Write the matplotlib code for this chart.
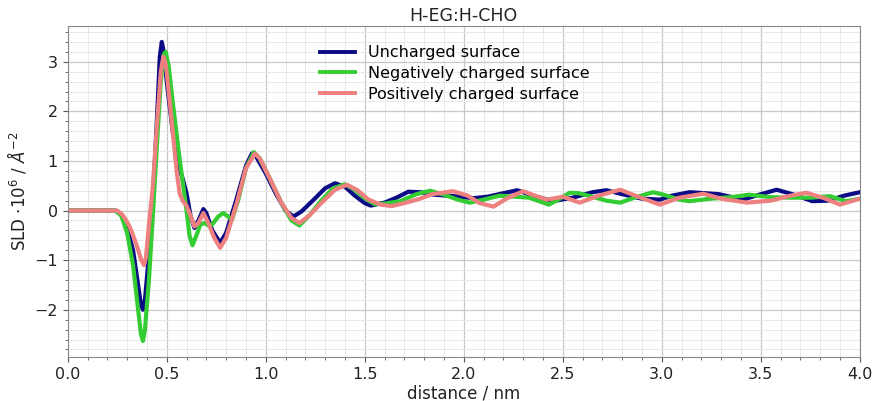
import matplotlib
matplotlib.use("Agg")
import matplotlib.pyplot as plt
from matplotlib.ticker import MultipleLocator

title = "H-EG:H-CHO"
labels = ["Uncharged surface", "Negatively charged surface", "Positively charged surface"]
colors = ["#0b0b85", "#33cc33", "#ee8080"]

x_unch = [0.0, 0.24, 0.27, 0.30, 0.33, 0.35, 0.37, 0.38, 0.39, 0.41, 0.43, 0.45, 0.465, 0.475, 0.485,
          0.50, 0.53, 0.56, 0.58, 0.60, 0.62, 0.64, 0.66, 0.685, 0.70, 0.73, 0.77, 0.80, 0.85, 0.90,
          0.93, 0.95, 1.0, 1.05, 1.10, 1.14, 1.18, 1.25, 1.30, 1.35, 1.40, 1.45, 1.50, 1.53, 1.60,
          1.66, 1.72, 1.78, 1.85, 1.95, 2.05, 2.12, 2.20, 2.27, 2.35, 2.45, 2.55, 2.65, 2.72, 2.80,
          2.90, 2.99, 3.05, 3.14, 3.22, 3.29, 3.41, 3.50, 3.58, 3.66, 3.76, 3.84, 3.92, 4.0]
y_unch = [0.0, 0.0, -0.08, -0.35, -0.8, -1.35, -1.9, -2.0, -1.8, -0.9, 0.2, 1.8, 3.1, 3.4, 3.2,
          2.6, 1.6, 0.9, 0.65, 0.35, -0.1, -0.35, -0.2, 0.03, -0.05, -0.4, -0.65, -0.45, 0.2, 0.9,
          1.15, 1.1, 0.75, 0.35, 0.0, -0.12, -0.02, 0.25, 0.45, 0.55, 0.48, 0.3, 0.15, 0.1, 0.16,
          0.26, 0.38, 0.37, 0.32, 0.29, 0.25, 0.28, 0.35, 0.41, 0.3, 0.19, 0.26, 0.37, 0.41, 0.33,
          0.24, 0.22, 0.30, 0.37, 0.35, 0.33, 0.22, 0.33, 0.42, 0.33, 0.19, 0.20, 0.30, 0.37]

x_neg = [0.0, 0.24, 0.27, 0.30, 0.33, 0.35, 0.37, 0.38, 0.39, 0.41, 0.43, 0.45, 0.47, 0.485, 0.495,
         0.51, 0.53, 0.56, 0.58, 0.60, 0.615, 0.63, 0.65, 0.67, 0.69, 0.71, 0.73, 0.76, 0.785, 0.81,
         0.83, 0.86, 0.90, 0.94, 0.97, 1.02, 1.08, 1.13, 1.17, 1.22, 1.28, 1.34, 1.40, 1.45, 1.50,
         1.55, 1.60, 1.68, 1.76, 1.83, 1.90, 1.97, 2.03, 2.10, 2.18, 2.33, 2.43, 2.49, 2.535, 2.58,
         2.64, 2.72, 2.79, 2.87, 2.955, 3.0, 3.09, 3.14, 3.25, 3.35, 3.44, 3.55, 3.65, 3.75, 3.85,
         3.93, 4.0]
y_neg = [0.0, 0.0, -0.1, -0.45, -1.1, -1.8, -2.5, -2.63, -2.4, -1.4, -0.1, 1.3, 2.6, 3.15, 3.2,
         2.9, 2.2, 1.2, 0.6, 0.0, -0.5, -0.7, -0.5, -0.28, -0.25, -0.3, -0.28, -0.12, -0.05, -0.12,
         -0.18, 0.2, 0.85, 1.18, 1.05, 0.65, 0.15, -0.2, -0.3, -0.1, 0.2, 0.45, 0.53, 0.42, 0.25,
         0.13, 0.14, 0.19, 0.33, 0.40, 0.32, 0.22, 0.16, 0.22, 0.30, 0.26, 0.12, 0.25, 0.36, 0.35,
         0.29, 0.2, 0.16, 0.27, 0.37, 0.33, 0.22, 0.19, 0.24, 0.27, 0.32, 0.27, 0.26, 0.26, 0.29,
         0.19, 0.24]

x_pos = [0.0, 0.25, 0.28, 0.31, 0.33, 0.35, 0.37, 0.385, 0.395, 0.41, 0.43, 0.45, 0.47, 0.483, 0.495,
         0.51, 0.53, 0.55, 0.565, 0.58, 0.60, 0.62, 0.64, 0.66, 0.685, 0.71, 0.74, 0.77, 0.80, 0.85,
         0.90, 0.945, 0.97, 1.02, 1.08, 1.13, 1.17, 1.22, 1.28, 1.35, 1.41, 1.46, 1.52, 1.58, 1.635,
         1.70, 1.78, 1.84, 1.945, 2.02, 2.08, 2.15, 2.22, 2.30, 2.36, 2.42, 2.50, 2.585, 2.68, 2.79,
         2.88, 2.99, 3.09, 3.21, 3.30, 3.43, 3.55, 3.65, 3.73, 3.82, 3.90, 4.0]
y_pos = [0.0, 0.0, -0.1, -0.3, -0.5, -0.72, -0.98, -1.1, -0.95, -0.3, 0.5, 1.7, 2.8, 3.1, 2.95,
         2.4, 1.6, 0.8, 0.35, 0.2, 0.1, -0.1, -0.32, -0.25, -0.05, -0.25, -0.55, -0.75, -0.55, 0.1,
         0.85, 1.15, 1.05, 0.65, 0.15, -0.15, -0.25, -0.1, 0.15, 0.42, 0.52, 0.42, 0.22, 0.12, 0.09,
         0.15, 0.24, 0.33, 0.39, 0.3, 0.15, 0.08, 0.25, 0.39, 0.3, 0.22, 0.28, 0.16, 0.3, 0.42,
         0.28, 0.12, 0.26, 0.34, 0.24, 0.16, 0.2, 0.3, 0.36, 0.25, 0.12, 0.24]

series = [(x_unch, y_unch), (x_neg, y_neg), (x_pos, y_pos)]

fig = plt.figure(figsize=(8.91, 4.01), dpi=100)
ax = fig.add_axes([0.076, 0.11, 0.889, 0.825])

for (xs, ys), lab, c in zip(series, labels, colors):
    ax.plot(xs, ys, color=c, lw=3, label=lab, solid_joinstyle="round")

ax.set_xlim(0, 4.0)
ax.set_ylim(-2.95, 3.72)
ax.xaxis.set_major_locator(MultipleLocator(0.5))
ax.xaxis.set_minor_locator(MultipleLocator(0.1))
ax.yaxis.set_major_locator(MultipleLocator(1))
ax.yaxis.set_minor_locator(MultipleLocator(0.2))
ax.grid(which="major", color="#c8c8c8", lw=0.9)
ax.grid(which="minor", color="#e8e8e8", lw=0.7)
ax.set_axisbelow(True)
for s in ax.spines.values():
    s.set_color("#888888")
ax.tick_params(which="both", colors="#555555", labelcolor="#222222", labelsize=11.5)
ax.tick_params(which="minor", length=2)

ax.set_xlabel("distance / nm", fontsize=12, color="#222222", labelpad=2)
ax.set_ylabel(r"SLD $\cdot10^{6}$ / $\AA^{-2}$", fontsize=12, color="#222222")
ax.set_title(title, fontsize=12.5, color="#222222", pad=4)

leg = ax.legend(loc="upper left", bbox_to_anchor=(0.3, 0.985), frameon=False,
                fontsize=11.5, handlelength=2.2, labelspacing=0.35)
for h in leg.get_lines():
    h.set_linewidth(2.8)

fig.savefig("out.png", dpi=100)
